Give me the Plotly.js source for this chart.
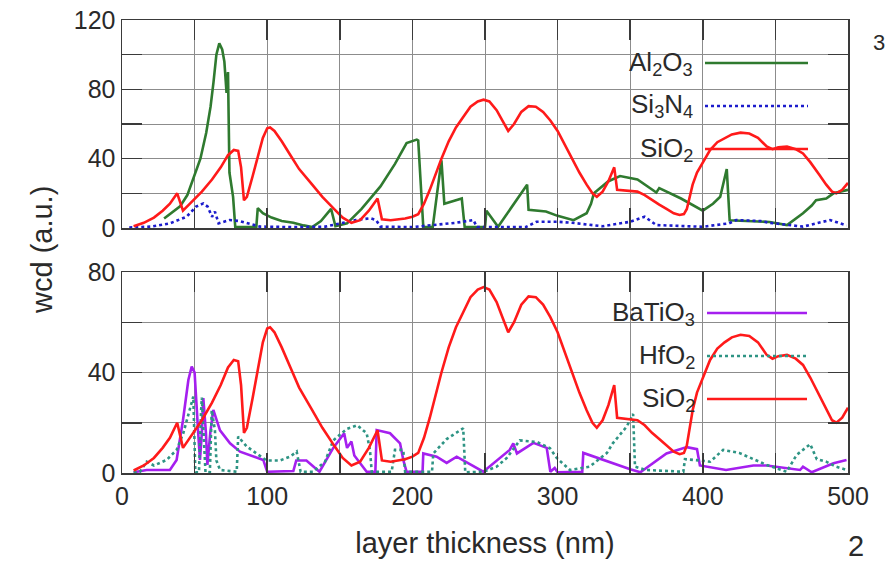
<!DOCTYPE html>
<html>
<head>
<meta charset="utf-8">
<script src="https://cdn.plot.ly/plotly-3.0.1.min.js"></script>
<style>
html,body{margin:0;padding:0;background:#fff;}
#chart{width:885px;height:565px;}
</style>
</head>
<body>
<div id="chart"></div>
<script>
// ---------- data ----------
// SiO2 (same curve drawn in both panels)
const sio2_x = [8,15,22,28,33,38,42,48,55,62,68,73,77,80,82,84,86,90,94,97,100,102,105,110,116,122,130,138,146,152,158,164,170,176,179,185,195,200,204,208,212,216,220,225,230,235,240,245,249,253,258,262,266,270,275,280,285,290,295,300,305,310,315,320,324,327,331,335,339,341,348,355,360,365,370,375,380,384,387,389,391,393,396,400,405,410,415,420,426,432,438,444,448,452,458,464,469,474,480,485,489,492,496,500];
const sio2_y = [1,3,6,10,14,20,10,15,21,28,35,42,45,44.5,35,16,18,30,43,52,57.5,58,56,50,42,34,26,18,11,6,3,4.5,10,17,5,4.5,5.5,6.5,8,14,22,31,40,50,58,64,70,73,74,73,68,62,56,60,67,70.3,70,67,62,56,48,40,32,25,20,18,21,27,35,22,21.5,21,19,16,13.5,11,8.5,7.5,8,11,18,25,32,38,45,49.5,52,54,55,54.5,52,47,45.5,46.5,47,45.5,43,38,31,25,21,20,22,26];

// Al2O3 (top panel)
const al2o3_x = [29,34,40,45,49,54,58,61,63,65,67,69,70.5,72,73,74,76.5,78,92.5,93.5,97,103,110,118,125,131,137,144,147,155,165,178,188,196,203,204,207.5,214,217,220,222,234,236,250,251,259,279,280,292,300,311,320,323,325,335,343,355,368,370,385,400,407,412,414,416.5,418.5,430,446,458,469,475,478,485,490,500];
const al2o3_y = [5.5,8.5,12.5,19,28,40,55,70,84,100,106.5,103,96,78,90,32,18,0.5,0.5,11.5,8.5,6,4,3,1.5,0.5,4,11,1,2.7,11,24,37,49,51,50.5,0.5,0.5,20,39,14,17,0.5,0.5,10,0.7,25,10.5,9.5,7,4.5,8.5,14,20,27,30,28,20.5,23,17,10,14,18,25,34,4.5,4,3.5,1.7,8.5,13,16,17,20,22];

// Si3N4 (top panel)
const si3n4_x = [5,20,33,44.5,51,56,59,62,64,66.5,74,81,95,120,140,151,161,171,175,178,200,214,230,242,244.5,278,285.5,300,310,331,350,360,368,400,418,423,440,446,469,487.6,499];
const si3n4_y = [0.3,0.8,2.7,6.5,12.3,14.2,12.3,6.5,9.4,2.7,4.6,4,0.8,0.5,0.8,2.7,4.6,5.6,4.6,0.8,0.5,1.7,3,4.6,0.5,0.5,3.6,3.6,3,1,3.6,6.5,1.7,0.7,2.7,4.6,4,3,0.8,4.6,1.5];

// BaTiO3 (bottom panel)
const batio3_x = [8,17,33,37.6,42,45.7,48,50,52.5,53.7,55,56,57.8,58.8,60.8,62.9,67.5,74.4,81.3,90.4,97.3,100,118,120,127,136,145.5,153,155,158,160,168.5,174.5,175.4,184.6,191.5,193.8,196,207,207.5,216.7,223.6,230.5,248.8,267,269.5,272,283.3,292.5,295,298,300,317,317.7,331,350,357,375,389,396,398,416,434.8,444,467,469,475,490,499];
const batio3_y = [0.3,1.2,1.2,5.2,21,37,42.4,40,15.8,5.2,16,29.8,16,3.2,16,25.1,17,11.8,8.5,6.5,5.2,0.5,0.8,5,5,0.5,10,15.8,10,12.5,7,0.5,0.5,17.1,15.8,11.8,5,0.5,0.5,7.8,6.5,4,6.5,0.5,9.2,11.8,7.8,12,10,0.5,2,0.3,0.5,8,5.2,1.5,0.3,7.8,10.3,9.5,3,1.2,3,3,1.2,2.5,0.3,3.9,5.2];

// HfO2 (bottom panel)
const hfo2_x = [8,12.4,17,22,30.8,37.6,42.2,46.8,49.1,50.5,53,54.5,55,57.5,60.5,61.8,64,65,67.5,79,80,86,93,99.5,108.8,115.7,120.3,123,131.5,139.8,145.5,154.7,162,168.5,170.8,172,185.7,188,193.7,195,213.5,214.4,223.6,235,236.4,249,258,265,274,286,294.8,299.4,308.5,322,334,338,347.5,352,353.3,361,386.6,387.7,398,405,414,425,444,457.8,464.6,474,478.5,485,492,499];
const hfo2_y = [0.3,0.5,4.5,3,5.2,9.2,15.8,25.8,30.4,0.3,0.3,25,30,0.3,0.3,25,17,5,1.2,0.5,14.5,10.5,7.5,5,5,6.5,8.5,0.5,0.5,4.5,13,17.5,19,15.8,9,0.5,0.5,9.2,9.2,0.5,0.5,7.8,13.5,17.8,0.3,0.5,2.5,6,13,12.3,9.8,6,1.2,2.5,8,11.8,18.4,23.5,2.5,1.2,0.5,5.5,5,4.5,9.2,8,3.2,0.5,7.2,11.5,5.5,4.5,2.5,1.2];

// axes / labels
const xRange = [0,500], yTopRange = [0,120], yBotRange = [0,80];
const xLabelStep = 100, xGridStep = 50;
const yLabelStep = 40, yGridStep = 20;

const topLegend = [
  {name:"Al<sub>2</sub>O<sub>3</sub>", color:"#2f7a2f", dash:"solid"},
  {name:"Si<sub>3</sub>N<sub>4</sub>", color:"#1c1ccc", dash:"dot"},
  {name:"SiO<sub>2</sub>", color:"#ff1a1a", dash:"solid"}
];
const botLegend = [
  {name:"BaTiO<sub>3</sub>", color:"#a51fef", dash:"solid"},
  {name:"HfO<sub>2</sub>", color:"#2e9484", dash:"dot"},
  {name:"SiO<sub>2</sub>", color:"#ff1a1a", dash:"solid"}
];

// ---------- geometry helpers ----------
const W = 885, H = 565;
const M = {l:122, r:37, t:20, b:92};
const PW = W - M.l - M.r, PH = H - M.t - M.b;
const px = x => (x - M.l) / PW;
const py = y => (H - M.b - y) / PH;

const FONT = "Liberation Sans, Arial, sans-serif";
const TXT = "#2a2a2a";
const DOT = "3px,3px";

function line(color, dash){ return {color:color, width:2.6, dash: dash==="dot" ? DOT : "solid"}; }

const traces = [
  {x:al2o3_x, y:al2o3_y, xaxis:"x2", yaxis:"y2", mode:"lines", line:line(topLegend[0].color,"solid"), name:"Al2O3"},
  {x:si3n4_x, y:si3n4_y, xaxis:"x2", yaxis:"y2", mode:"lines", line:line(topLegend[1].color,"dot"), name:"Si3N4"},
  {x:sio2_x, y:sio2_y, xaxis:"x2", yaxis:"y2", mode:"lines", line:line(topLegend[2].color,"solid"), name:"SiO2"},
  {x:batio3_x, y:batio3_y, xaxis:"x", yaxis:"y", mode:"lines", line:line(botLegend[0].color,"solid"), name:"BaTiO3"},
  {x:hfo2_x, y:hfo2_y, xaxis:"x", yaxis:"y", mode:"lines", line:line(botLegend[1].color,"dot"), name:"HfO2"},
  {x:sio2_x, y:sio2_y, xaxis:"x", yaxis:"y", mode:"lines", line:line(botLegend[2].color,"solid"), name:"SiO2"}
];

function axis(labelStep, gridStep, extra){
  return Object.assign({
    showline:true, mirror:"ticks", linecolor:"#3a3a3a", linewidth:1.5,
    ticks:"inside", ticklen:20, tickwidth:1.5, tickcolor:"#3a3a3a",
    showgrid:true, gridcolor:"#8c8c8c", gridwidth:1, zeroline:false,
    tickfont:{family:FONT, size:25, color:TXT}, tickmode:"linear", tick0:0, dtick:labelStep,
    minor:{tickmode:"linear", tick0:0, dtick:gridStep, ticks:"inside", ticklen:20, tickwidth:1.5, tickcolor:"#3a3a3a",
           showgrid:true, gridcolor:"#8c8c8c", gridwidth:1},
    fixedrange:true
  }, extra);
}

const shapes = [];
const annotations = [];

// opaque legend boxes (between gridlines and data)
shapes.push({type:"rect", xref:"paper", yref:"paper", x0:px(583), x1:px(846), y0:py(170), y1:py(24),
  fillcolor:"#ffffff", line:{width:0}, layer:"between"});
shapes.push({type:"rect", xref:"paper", yref:"paper", x0:px(567), x1:px(846), y0:py(420), y1:py(276),
  fillcolor:"#ffffff", line:{width:0}, layer:"between"});

function addLegend(items, textRight, lineX0, lineX1, ys){
  items.forEach((it,i)=>{
    annotations.push({xref:"paper", yref:"paper", x:px(textRight), y:py(ys[i]), xanchor:"right", yanchor:"middle",
      text:it.name, showarrow:false, font:{family:FONT, size:26, color:TXT}});
    shapes.push({type:"line", xref:"paper", yref:"paper", x0:px(lineX0), x1:px(lineX1), y0:py(ys[i]), y1:py(ys[i]),
      line:{color:it.color, width:2.6, dash: it.dash==="dot" ? DOT : "solid"}, layer:"above"});
  });
}
addLegend(topLegend, 695, 705, 808, [63,106,149]);
addLegend(botLegend, 697, 707, 807, [313,356,399]);

// axis title (shared y)
annotations.push({xref:"paper", yref:"paper", x:px(42), y:py(250), xanchor:"center", yanchor:"middle",
  text:"wcd (a.u.)", textangle:-90, showarrow:false, font:{family:FONT, size:29, color:TXT}});
// stray page fragments visible at the edges of the reference
annotations.push({xref:"paper", yref:"paper", x:px(871), y:py(42), xanchor:"left", yanchor:"middle",
  text:"3", showarrow:false, font:{family:FONT, size:22, color:TXT}});
annotations.push({xref:"paper", yref:"paper", x:px(856), y:py(546), xanchor:"center", yanchor:"middle",
  text:"2", showarrow:false, font:{family:FONT, size:29, color:TXT}});

const layout = {
  width:W, height:H, margin:M, paper_bgcolor:"#fff", plot_bgcolor:"#fff",
  showlegend:false,
  xaxis: axis(xLabelStep, xGridStep, {anchor:"y", domain:[0,1], range:xRange,
    title:{text:"layer thickness (nm)", font:{family:FONT, size:29, color:TXT}, standoff:24}}),
  xaxis2: axis(xLabelStep, xGridStep, {anchor:"y2", domain:[0,1], range:xRange, showticklabels:false}),
  yaxis: axis(yLabelStep, yGridStep, {anchor:"x", domain:[0, py(272)], range:yBotRange}),
  yaxis2: axis(yLabelStep, yGridStep, {anchor:"x2", domain:[py(228), 1], range:yTopRange}),
  shapes:shapes, annotations:annotations
};

Plotly.newPlot("chart", traces, layout, {staticPlot:true, displayModeBar:false});
</script>
</body>
</html>
